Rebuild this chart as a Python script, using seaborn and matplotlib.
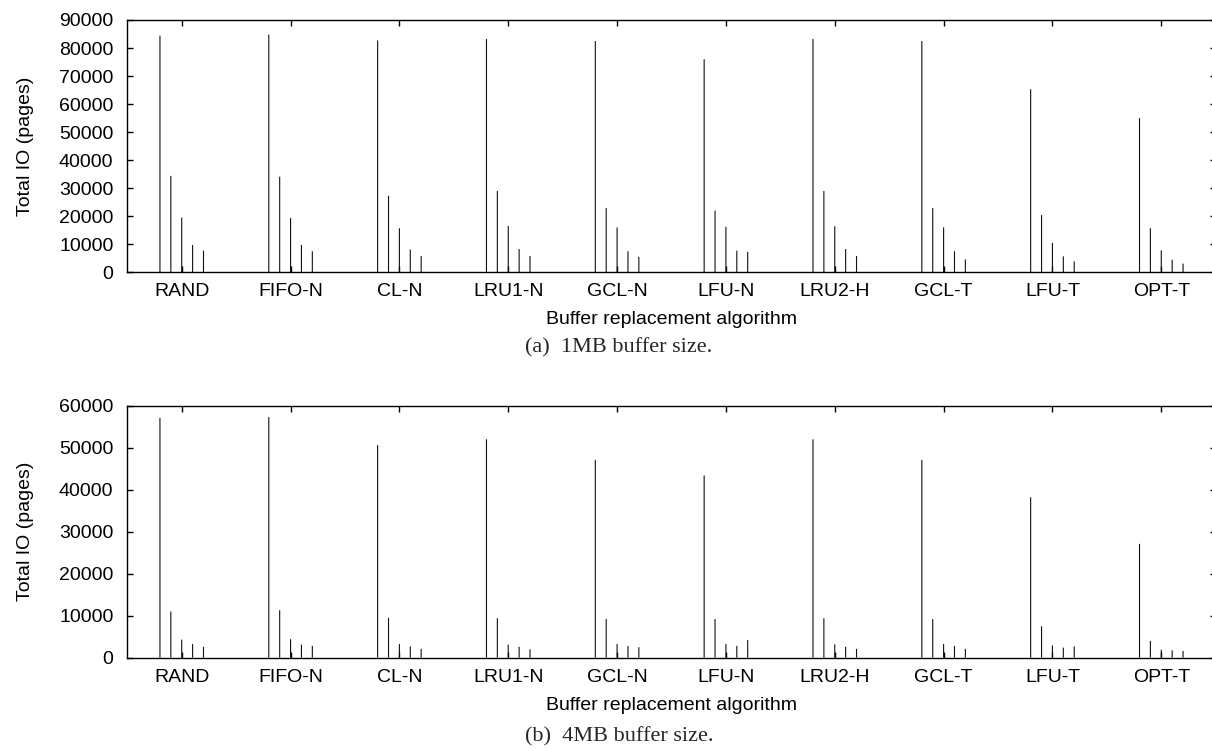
import matplotlib
matplotlib.use("Agg")
import matplotlib.pyplot as plt
import numpy as np
import pandas as pd
import seaborn as sns

algorithms = ["RAND", "FIFO-N", "CL-N", "LRU1-N", "GCL-N", "LFU-N", "LRU2-H", "GCL-T", "LFU-T", "OPT-T"]
series_names = ["s1", "s2", "s3", "s4", "s5"]

# (a) 1MB buffer
mb1_s1 = [84400, 84800, 82700, 83200, 82500, 76000, 83200, 82500, 65300, 55000]
mb1_s2 = [34400, 34100, 27300, 29000, 22900, 22000, 29000, 22900, 20400, 15700]
mb1_s3 = [19500, 19400, 15700, 16500, 16000, 16200, 16400, 16000, 10500, 7800]
mb1_s4 = [9750, 9750, 8100, 8300, 7500, 7700, 8300, 7500, 5700, 4500]
mb1_s5 = [7700, 7500, 5800, 5800, 5500, 7300, 5800, 4600, 3900, 3100]

# (b) 4MB buffer
mb4_s1 = [57100, 57300, 50600, 52000, 47100, 43400, 52000, 47100, 38200, 27100]
mb4_s2 = [11000, 11300, 9500, 9400, 9200, 9200, 9400, 9200, 7500, 4000]
mb4_s3 = [4300, 4400, 3250, 3100, 3250, 3250, 3200, 3250, 2900, 1900]
mb4_s4 = [3250, 3100, 2700, 2600, 2800, 2800, 2600, 2800, 2400, 1750]
mb4_s5 = [2600, 2800, 2100, 2000, 2500, 4200, 2100, 2100, 2700, 1600]


def make_df(cols):
    rows = []
    for name, vals in zip(series_names, cols):
        for alg, v in zip(algorithms, vals):
            rows.append({"algorithm": alg, "series": name, "io": v})
    return pd.DataFrame(rows)


sns.set_theme(style="ticks")
plt.rcParams['font.family'] = ['Liberation Sans', 'DejaVu Sans']

W, H = 1212, 751
fig = plt.figure(figsize=(W / 100, H / 100), dpi=100)
ax1 = fig.add_axes([127.3 / W, 1 - 272.3 / H, 1088.4 / W, 252.3 / H])
ax2 = fig.add_axes([127.3 / W, 1 - 657.7 / H, 1088.4 / W, 252.0 / H])


def draw(ax, df, ymax, caption, cap_y):
    sns.barplot(data=df, x="algorithm", y="io", hue="series", order=algorithms,
                hue_order=series_names, palette=["black"] * 5, saturation=1,
                width=0.5, gap=0, errorbar=None, legend=False, ax=ax)
    # turn the bars into gnuplot-like impulses
    for p in ax.patches:
        cx = p.get_x() + p.get_width() / 2
        p.set_width(0)
        p.set_x(cx)
        p.set_edgecolor('#111111')
        p.set_linewidth(0.8)
        p.set_snap(False)
    ax.set_xlim(-0.5, 9.5)
    ax.set_ylim(0, ymax)
    ax.set_yticks(np.arange(0, ymax + 1, 10000))
    ax.tick_params(direction='in', top=True, right=True, length=4, width=1,
                   labelsize=14, colors='black')
    ax.tick_params(axis='x', pad=8)
    ax.tick_params(axis='y', pad=10)
    for s in ax.spines.values():
        s.set_visible(True)
        s.set_color('black')
        s.set_linewidth(1)
    ax.set_xlabel("Buffer replacement algorithm", fontsize=14, color='black')
    ax.set_ylabel("Total IO (pages)", fontsize=14, color='black')
    ax.xaxis.set_label_coords(0.5, -0.155)
    ax.yaxis.set_label_coords(-0.086, 0.5)
    fig.text(619 / W, 1 - cap_y / H, caption, ha='center', va='center', fontsize=16,
             family=['Liberation Serif', 'DejaVu Serif'])


draw(ax1, make_df([mb1_s1, mb1_s2, mb1_s3, mb1_s4, mb1_s5]), 90000, "(a)  1MB buffer size.", 348)
draw(ax2, make_df([mb4_s1, mb4_s2, mb4_s3, mb4_s4, mb4_s5]), 60000, "(b)  4MB buffer size.", 737)

fig.savefig("out.png", dpi=100)
